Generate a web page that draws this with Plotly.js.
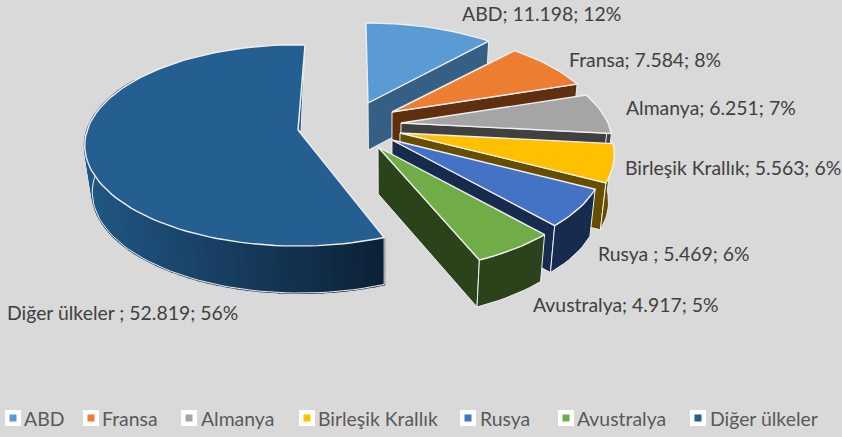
<!DOCTYPE html>
<html><head><meta charset="utf-8">
<script src="https://cdn.plot.ly/plotly-3.0.1.min.js"></script>
<style>html,body{margin:0;padding:0;background:#D9D9D9}</style></head>
<body><div id="chart" style="width:842px;height:437px"></div>
<script>
// Data
const categories = ["ABD","Fransa","Almanya","Birleşik Krallık","Rusya ","Avustralya","Diğer ülkeler "];
const values = [11198,7584,6251,5563,5469,4917,52819];
// Colours
const topColors  = ["#5B9BD5","#ED7D31","#A5A5A5","#FFC000","#4472C4","#70AD47","#255E91"];
const wallColors = ["#365F86","#5F2F10","#404040","#664D00","#172B4F","#2B431B","#12304E"];
// Pie geometry (exploded 3D projection)
const pieCx = 380, pieCy = 125, radius = 207, tilt = 96.6, thickness = 47, vanishX = 385, vanishK = 0.025;
const explodeX = [-12,12,21,20,12,-2,-82];
const explodeY = [-22,-13,-2,8,15,22,5];
const persp = [0.208,0.208,0.208,0.208,0.208,0.208,0.15];
const angleShift = [-0.7,0,0,0,0,0,2.2];
const radialScale = [1,1,1,1.012,1,1.02,1.018];
// Label placement
const labelX = [460,567,624,623,596,531,5];
const labelY = [13,59,107,167,253,304,312];
// Legend placement
const legendBoxX = [13,91,189,307,468,566,698];
const legendTextX = [22,100,199,316,478,575,708];
const legendRowY = 418;

const total = values.reduce((a,b)=>a+b,0);
const fmt = v => String(v).replace(/\B(?=(\d{3})+$)/g,".");
let cum = 0;
const slices = values.map(v=>{const a0=cum/total*360; cum+=v; return [a0,cum/total*360];});
const rad = d => d*Math.PI/180;
function pt(i,deg,r,low){
  const th=deg+angleShift[i], R=r*radialScale[i];
  const X=Math.sin(rad(th))*R, Y=Math.cos(rad(th))*R, s=1/(1+persp[i]*Y);
  let x=pieCx+explodeX[i]+radius*X*s, y=pieCy+explodeY[i]-tilt*Y*s;
  if(low){x+=vanishK*(vanishX-x); y+=thickness;}
  return [x,y];
}
function arc(i,a,b,low){const n=Math.max(2,Math.ceil(Math.abs(b-a)/2)),o=[];
  for(let k=0;k<=n;k++)o.push(pt(i,a+(b-a)*k/n,1,low));return o;}
const edge="#EFEFEF";
const traces=[];
function poly(p,fill,lw,seam){traces.push({type:"scatter",mode:"lines",x:p.map(q=>q[0]).concat(p[0][0]),y:p.map(q=>q[1]).concat(p[0][1]),
  fill:"toself",fillcolor:fill,line:{color:lw?edge:fill,width:lw||seam||0.6},hoverinfo:"skip",showlegend:false});}
function hex(c){return [1,3,5].map(k=>parseInt(c.substr(k,2),16));}
function mix(a,b,t){const A=hex(a),B=hex(b);return "rgb("+A.map((v,k)=>Math.round(v+(B[k]-v)*t)).join(",")+")";}

slices.forEach(([a0,a1],i)=>{
  const big=i===6;
  const apex=pt(i,0,0,false), apexLow=pt(i,0,0,true);
  if(!big){
    const e=pt(i,a1,1,false), eLow=pt(i,a1,1,true);
    poly([apex,e,eLow,apexLow],wallColors[i],1);
  } else {
    const e=pt(i,a1,1,false);
    poly([apex,e,[apex[0]+3,apex[1]+2]],topColors[i],1);
  }
  const wa=Math.max(a0,90), wb=Math.min(a1,big?300:270);
  if(wb>wa){
    if(big){
      const n=56;
      for(let k=0;k<n;k++){
        const u0=wa+(wb-wa)*k/n,u1=wa+(wb-wa)*(k+1)/n;
        const q=pt(i,(u0+u1)/2,1,false);
        const t=Math.max(0,Math.min(1,(q[0]-90)/(384-90)));
        poly([pt(i,u0,1,false),pt(i,u1,1,false),pt(i,u1,1,true),pt(i,u0,1,true)],mix("#215683","#0C2036",t),0,2);
      }
      const lowArc=arc(i,wa,wb,true);
      traces.push({type:"scatter",mode:"lines",x:lowArc.map(q=>q[0]),y:lowArc.map(q=>q[1]),line:{color:edge,width:1},hoverinfo:"skip",showlegend:false});
      const s0=pt(i,wa,1,false),s1=pt(i,wa,1,true);
      traces.push({type:"scatter",mode:"lines",x:[s0[0],s1[0]],y:[s0[1],s1[1]],line:{color:edge,width:1},hoverinfo:"skip",showlegend:false});
    } else {
      poly(arc(i,wa,wb,false).concat(arc(i,wb,wa,true)),wallColors[i],1);
    }
  }
  poly([apex].concat(arc(i,a0,a1,false)),topColors[i],1.4);
});
// Legend keys
traces.push({type:"scatter",mode:"markers",x:legendBoxX,y:legendBoxX.map(()=>legendRowY),
  marker:{symbol:"square",size:16,color:"#FFFFFF"},hoverinfo:"skip",showlegend:false});
traces.push({type:"scatter",mode:"markers",x:legendBoxX,y:legendBoxX.map(()=>legendRowY),
  marker:{symbol:"square",size:7,color:topColors},hoverinfo:"skip",showlegend:false});

const font="Lato, Carlito, sans-serif";
const annotations=categories.map((c,i)=>({xref:"x",yref:"y",x:labelX[i],y:labelY[i],xanchor:"left",yanchor:"middle",showarrow:false,
  text:c+"; "+fmt(values[i])+"; "+Math.round(values[i]/total*100)+"%",font:{family:font,size:19.4,color:"#404040"}}))
 .concat(categories.map((c,i)=>({xref:"x",yref:"y",x:legendTextX[i],y:legendRowY,xanchor:"left",yanchor:"middle",showarrow:false,
  text:c.trim(),font:{family:font,size:19.4,color:"#595959"}})));

Plotly.newPlot("chart",traces,{
  width:842,height:437,margin:{l:0,r:0,t:0,b:0},paper_bgcolor:"#D9D9D9",plot_bgcolor:"#D9D9D9",
  showlegend:false,
  xaxis:{range:[0,842],visible:false,fixedrange:true},
  yaxis:{range:[437,0],visible:false,fixedrange:true},
  annotations
},{staticPlot:true,displayModeBar:false});
</script></body></html>
